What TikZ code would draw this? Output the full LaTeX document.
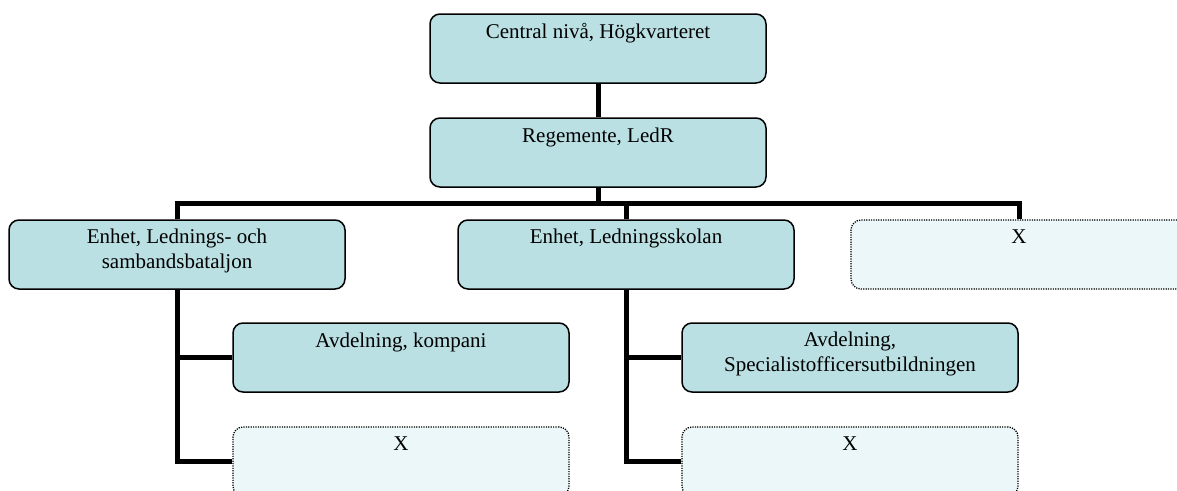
\documentclass[tikz,border=0pt]{standalone}
\usepackage{fontspec}
\setmainfont{Liberation Serif}
\definecolor{boxfill}{HTML}{BAE0E3}
\definecolor{emptyfill}{HTML}{EBF7F8}
\tikzset{
  orgbox/.style={draw=black, line width=1.5pt, rounded corners=10pt, fill=boxfill, minimum width=336pt, minimum height=69pt, inner sep=0pt},
  emptybox/.style={draw=black, line width=1.3pt, dash pattern=on 1.2pt off 1.2pt, rounded corners=10pt, fill=emptyfill, minimum width=336pt, minimum height=69pt, inner sep=0pt},
  lbl/.style={anchor=base, align=center, inner sep=0pt, font=\fontsize{21}{25}\selectfont},
  conn/.style={line width=5pt}
}
\begin{document}
\begin{tikzpicture}[x=1pt,y=-1pt]
\useasboundingbox (0,0) rectangle (1177,490);
\clip (0,0) rectangle (1177,490);
\node[orgbox] (top) at (598,48.5) {};
\node[orgbox] (reg) at (598,152.5) {};
\node[orgbox] (e1) at (177,254.5) {};
\node[orgbox] (e2) at (626,254.5) {};
\node[emptybox] (x0) at (1019,254.5) {};
\node[orgbox] (a1) at (401,357.5) {};
\node[emptybox] (x1) at (401,461.5) {};
\node[orgbox] (a2) at (850,357.5) {};
\node[emptybox] (x2) at (850,461.5) {};

\node[lbl] (ttop) at ([yshift=-25pt]top.north) {Central nivå, Högkvarteret};
\node[lbl] (treg) at ([yshift=-25pt]reg.north) {Regemente, LedR};
\node[lbl] (te1) at ([yshift=-49pt]e1.north) {Enhet, Lednings- och\\sambandsbataljon};
\node[lbl] (te2) at ([yshift=-24pt]e2.north) {Enhet, Ledningsskolan};
\node[lbl] (tx0) at ([yshift=-24pt]x0.north) {X};
\node[lbl] (ta1) at ([yshift=-25pt]a1.north) {Avdelning, kompani};
\node[lbl] (tx1) at ([yshift=-24pt]x1.north) {X};
\node[lbl] (ta2) at ([yshift=-49pt]a2.north) {Avdelning,\\Specialistofficersutbildningen};
\node[lbl] (tx2) at ([yshift=-24pt]x2.north) {X};

\coordinate (j) at (598,203);
\draw[conn] (top.south) -- (reg.north);
\draw[conn] (reg.south) -- (j);
\draw[conn] (e1.north) |- (j) -| (x0.north);
\draw[conn] (j) -| (e2.north);
\draw[conn] (e1.south) |- (a1.west);
\draw[conn] (e1.south) |- (x1.west);
\draw[conn] (e2.south) |- (a2.west);
\draw[conn] (e2.south) |- (x2.west);
\end{tikzpicture}
\end{document}
